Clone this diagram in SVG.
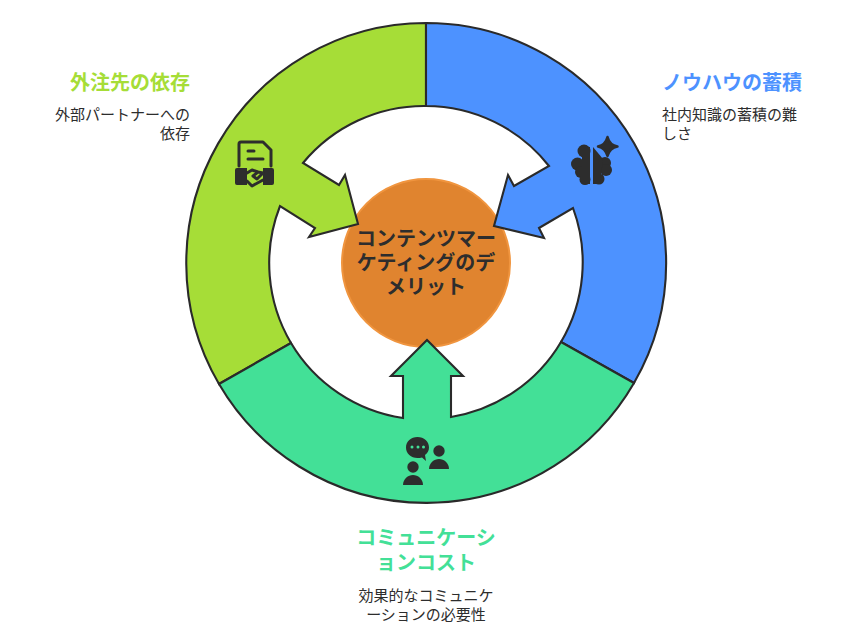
<svg xmlns="http://www.w3.org/2000/svg" width="852" height="643" viewBox="0 0 852 643">
<style>
.seg{stroke:#2a2a2a;stroke-width:2.1;stroke-linejoin:miter}
.t{font-family:"Noto Sans CJK JP","Noto Sans",sans-serif;font-weight:700;font-size:20px}
.d{font-family:"Noto Sans CJK JP","Noto Sans",sans-serif;font-size:15px;fill:#2d2d2d}
.c{font-family:"Noto Sans CJK JP","Noto Sans",sans-serif;font-weight:700;font-size:20px;fill:#2d2d2d;text-anchor:middle}
.i{fill:#2d2d2d}
.l{fill:none;stroke:#2d2d2d;stroke-width:3;stroke-linecap:round;stroke-linejoin:round}
</style>
<rect width="852" height="643" fill="#fff"/>
<g id="connectors"></g>
<g id="node-center">
<circle cx="426" cy="263" r="84" fill="#e0842f" stroke="#f0953f" stroke-width="2"/>
<text class="c" x="426" y="246">コンテンツマー</text>
<text class="c" x="426" y="270">ケティングのデ</text>
<text class="c" x="426" y="294">メリット</text>
</g>
<g id="node-outsourcing">
<path class="seg" fill="#a6dd37" d="M426 23A240 240 0 0 0 219 384L291 343A157 157 0 0 1 280 206L315 228L309 237L358 224L345 175L339 185L303 163A157 157 0 0 1 426 106Z"/>
<path class="l" d="M239 166V144Q239 142 241 142H263L271 150V166M248 151H254M248 159H263"/>
<path class="i" d="M235 170Q235 168 237 168H247V185H237Q235 185 235 183ZM263 168H272Q274 168 274 170V183Q274 185 272 185H263Z"/>
<path class="l" stroke-width="2.5" d="M247 173L252 170L258 172L253 176L257 179L263 173M263 180L252 186L247 181M258 172L263 173"/>
<text class="t" fill="#a6dd37" x="190" y="90" text-anchor="end">外注先の依存</text>
<text class="d" x="190" y="120" text-anchor="end">外部パートナーへの</text>
<text class="d" x="190" y="139" text-anchor="end">依存</text>
</g>
<g id="node-knowhow">
<path class="seg" fill="#4d92ff" d="M426 23A240 240 0 0 1 634 383L561 342A157 157 0 0 0 573 208L539 228L544 238L494 226L508 175L514 186L549 166A157 157 0 0 0 426 106Z"/>
<g class="i">
<circle cx="584" cy="151" r="6.5"/><circle cx="577.500" cy="164" r="6.500"/><circle cx="581" cy="172" r="6"/><circle cx="585" cy="179.500" r="5.500"/>
<rect x="582" y="147" width="8" height="37"/>
<circle cx="605" cy="163" r="6"/><circle cx="606" cy="170" r="6"/><circle cx="599" cy="179" r="5.500"/>
<path d="M593 147L603 159L600 184H593Z"/>
<path d="M607.500 137C609 142.500 612 145.500 617.500 146.500C612 147.500 609 150.500 607.500 156C606 150.500 603 147.500 598 146.500C603 145.500 606 142.500 607.500 137Z" stroke="#2d2d2d" stroke-width="2.500" stroke-linejoin="round"/>
</g>
<text class="t" fill="#4d92ff" x="662" y="90">ノウハウの蓄積</text>
<text class="d" x="662" y="120">社内知識の蓄積の難</text>
<text class="d" x="662" y="139">しさ</text>
</g>
<g id="node-communication">
<path class="seg" fill="#43e097" d="M219 384A240 240 0 0 0 634 383L561 342A157 157 0 0 1 451 417V376H463L427 340L391 376H403V418A157 157 0 0 1 291 343Z"/>
<path class="i" d="M417.500 437C411 437 406 441.500 406 447.500C406 453.500 411 458 417.500 458C419 458 420.500 458 422 457.500L426 461L425 455C427.500 453 429 450.500 429 447.500C429 441.500 424 437 417.500 437Z"/>
<circle cx="412" cy="447" r="1.500" fill="#43e097"/><circle cx="418" cy="447" r="1.500" fill="#43e097"/><circle cx="423.500" cy="447" r="1.500" fill="#43e097"/>
<circle class="i" cx="439" cy="451" r="5.700"/><path class="i" d="M429 469C429 463 434 459 439 459C444 459 449 463 449 469Z"/>
<circle class="i" cx="413" cy="467" r="5.700"/><path class="i" d="M403 485C403 479 408 475 413 475C418 475 423 479 423 485Z"/>
<text class="t" fill="#43e097" x="426" y="545" text-anchor="middle">コミュニケーシ</text>
<text class="t" fill="#43e097" x="426" y="570" text-anchor="middle">ョンコスト</text>
<text class="d" x="426" y="601" text-anchor="middle">効果的なコミュニケ</text>
<text class="d" x="426" y="620" text-anchor="middle">ーションの必要性</text>
</g>
</svg>
